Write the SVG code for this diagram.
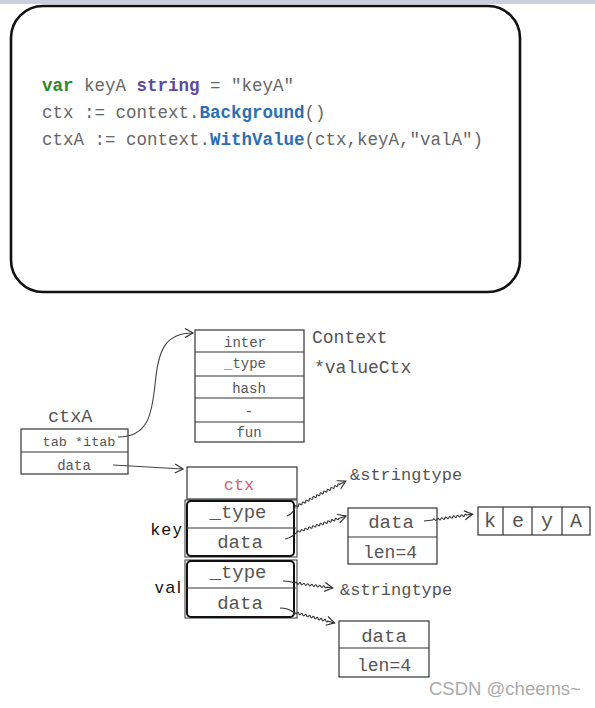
<svg xmlns="http://www.w3.org/2000/svg" width="595" height="708" viewBox="0 0 595 708">
<defs>
<style>
.code{font-family:"Liberation Mono","DejaVu Sans Mono",monospace;font-size:17.5px;fill:#666}
.kw{font-weight:bold;fill:#2a8a2a}
.ty{font-weight:bold;fill:#5b4a9e}
.fn{font-weight:bold;fill:#2a6fb5}
.box{fill:#fff;stroke:#333;stroke-width:1.2}
.ln{stroke:#333;stroke-width:1.2;fill:none}
.t{font-family:"Liberation Mono","DejaVu Sans Mono",monospace;fill:#555;text-anchor:middle}
.s14{font-size:14px}
.s18{font-size:18px}
.s19{font-size:19px}
.lbl{font-family:"Liberation Mono","DejaVu Sans Mono",monospace;fill:#555}
.hand{font-family:"Liberation Sans",Arial,sans-serif;font-size:17px;fill:#111;letter-spacing:2px}
.w{fill:none;stroke:#333;stroke-width:1.1;marker-end:url(#a)}
.arr{fill:none;stroke:#444;stroke-width:1.1;marker-end:url(#a)}
</style>
<marker id="a" markerWidth="12" markerHeight="12" refX="10" refY="6" orient="auto" markerUnits="userSpaceOnUse">
<path d="M2,1.5 L10,6 L2,10.5" fill="none" stroke="#333" stroke-width="1.2"/>
</marker>
</defs>
<rect x="0" y="0" width="595" height="708" fill="#fff"/>
<rect x="0" y="0" width="595" height="4" fill="#c9d1e1"/>

<g id="code">
<rect x="11" y="6" width="509" height="286" rx="32" ry="32" fill="#fff" stroke="#111" stroke-width="2.6"/>
<text class="code" x="42" y="91"><tspan class="kw">var</tspan> keyA <tspan class="ty">string</tspan> = "keyA"</text>
<text class="code" x="42" y="118">ctx := context.<tspan class="fn">Background</tspan>()</text>
<text class="code" x="42" y="145">ctxA := context.<tspan class="fn">WithValue</tspan>(ctx,keyA,"valA")</text>
</g>

<g id="context">
<rect class="box" x="195" y="330" width="109" height="112"/>
<line class="ln" x1="195" y1="352" x2="304" y2="352"/>
<line class="ln" x1="195" y1="376" x2="304" y2="376"/>
<line class="ln" x1="195" y1="398" x2="304" y2="398"/>
<line class="ln" x1="195" y1="422" x2="304" y2="422"/>
<text class="t s14" x="245" y="347">inter</text>
<text class="t s14" x="245" y="368">_type</text>
<text class="t s14" x="249" y="393">hash</text>
<text class="t s14" x="249" y="416">-</text>
<text class="t s14" x="249" y="437">fun</text>
<text class="lbl s18" x="312" y="343">Context</text>
<text class="lbl s18" x="314" y="373">*valueCtx</text>
</g>

<g id="ctxA">
<text class="lbl" style="font-size:18.5px" x="48" y="422">ctxA</text>
<rect class="box" x="21" y="429" width="107" height="45"/>
<line class="ln" x1="21" y1="452" x2="128" y2="452"/>
<text class="t" style="font-size:13.5px" x="79" y="446">tab *itab</text>
<text class="t s14" x="74" y="470">data</text>
</g>

<g id="ctx">
<rect class="box" x="187" y="467" width="110" height="32"/>
<text class="t" style="font-size:17px;fill:#d9607a" x="239" y="490">ctx</text>
</g>

<g id="key">
<rect x="185" y="500" width="112" height="57" fill="#fff" stroke="#333" stroke-width="1"/>
<rect x="187" y="501" width="107" height="55" rx="4" fill="none" stroke="#111" stroke-width="2"/>
<line class="ln" x1="186" y1="528" x2="296" y2="528"/>
<text class="t s19" x="238" y="518">_type</text>
<text class="t s19" x="240" y="548">data</text>
<text class="hand" x="151" y="535">key</text>
</g>

<g id="val">
<rect x="185" y="560" width="112" height="58" fill="#fff" stroke="#333" stroke-width="1"/>
<rect x="187" y="561" width="107" height="56" rx="4" fill="none" stroke="#111" stroke-width="2"/>
<line class="ln" x1="186" y1="588" x2="296" y2="588"/>
<text class="t s19" x="238" y="578">_type</text>
<text class="t s19" x="240" y="609">data</text>
<text class="hand" x="155" y="593">val</text>
</g>

<g id="stringtype1">
<text class="lbl" style="font-size:17px" x="350" y="480">&amp;stringtype</text>
</g>
<g id="stringtype2">
<text class="lbl" style="font-size:17px" x="340" y="595">&amp;stringtype</text>
</g>

<g id="keydata">
<rect class="box" x="348" y="508" width="89" height="56"/>
<line class="ln" x1="348" y1="537" x2="437" y2="537"/>
<text class="t s19" x="391" y="528">data</text>
<text class="t s18" x="390" y="558">len=4</text>
</g>

<g id="keyA">
<rect class="box" x="478" y="507" width="112" height="28"/>
<line class="ln" x1="503" y1="507" x2="503" y2="535"/>
<line class="ln" x1="532" y1="507" x2="532" y2="535"/>
<line class="ln" x1="562" y1="507" x2="562" y2="535"/>
<text class="t" style="font-size:20px" x="490" y="527">k</text>
<text class="t" style="font-size:20px" x="518" y="527">e</text>
<text class="t" style="font-size:20px" x="547" y="527">y</text>
<text class="t" style="font-size:20px" x="576" y="527">A</text>
</g>

<g id="valdata">
<rect class="box" x="339" y="621" width="90" height="56"/>
<line class="ln" x1="339" y1="648" x2="429" y2="648"/>
<text class="t s19" x="384" y="642">data</text>
<text class="t s18" x="384" y="671">len=4</text>
</g>

<g id="connectors">
<path class="arr" d="M118,437 C150,437 152,410 155,385 C158,350 165,333 193,333"/>
<path class="arr" d="M113,465 L183,469"/>
<path class="ln" d="M287,516 Q293,514 295,507"/>
<path class="w" transform="translate(295,507) rotate(-27)" d="M0,0 q1,-2 2,0 t2,0 t2,0 t2,0 t2,0 t2,0 t2,0 t2,0 t2,0 t2,0 t2,0 t2,0 t2,0 t2,0 t2,0 t2,0 t2,0 t2,0 t2,0 t2,0 t2,0 t2,0 t2,0 t2,0 t2,0 l7,0"/>
<path class="ln" d="M285,539 Q293,537 297,532"/>
<path class="w" transform="translate(297,532) rotate(-18)" d="M0,0 q1,-2 2,0 t2,0 t2,0 t2,0 t2,0 t2,0 t2,0 t2,0 t2,0 t2,0 t2,0 t2,0 t2,0 t2,0 t2,0 t2,0 t2,0 t2,0 t2,0 t2,0 t2,0 t2,0 l7.5,0"/>
<path class="ln" d="M424,521 L433,520"/>
<path class="w" transform="translate(433,520) rotate(-8.5)" d="M0,0 q1,-2 2,0 t2,0 t2,0 t2,0 t2,0 t2,0 t2,0 t2,0 t2,0 t2,0 t2,0 t2,0 t2,0 t2,0 t2,0 t2,0 t2,0 l6,0"/>
<path class="ln" d="M283,581 Q290,581 295,583"/>
<path class="w" transform="translate(295,583) rotate(7.5)" d="M0,0 q1,-2 2,0 t2,0 t2,0 t2,0 t2,0 t2,0 t2,0 t2,0 t2,0 t2,0 t2,0 t2,0 t2,0 t2,0 t2,0 t2,0 l6,0"/>
<path class="ln" d="M280,608 Q288,608 293,612"/>
<path class="w" transform="translate(293,612) rotate(14.7)" d="M0,0 q1,-2 2,0 t2,0 t2,0 t2,0 t2,0 t2,0 t2,0 t2,0 t2,0 t2,0 t2,0 t2,0 t2,0 t2,0 t2,0 t2,0 t2,0 t2,0 l7,0"/>
</g>

<text x="429" y="695" style="font-family:'Liberation Sans',Arial,sans-serif;font-size:18.5px;fill:#aaa">CSDN @cheems~</text>
</svg>
